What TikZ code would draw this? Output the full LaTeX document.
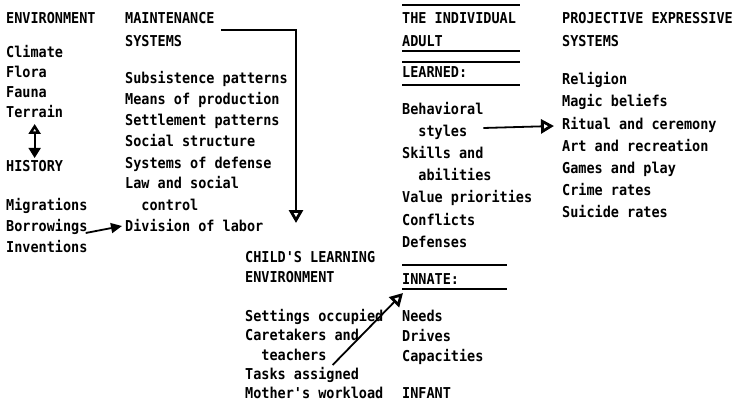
\documentclass[tikz,border=0pt]{standalone}
\usepackage{fontspec}
\usetikzlibrary{arrows.meta,calc}
\newfontfamily\dm[FakeStretch=0.9]{DejaVu Sans Mono}
\begin{document}
\begin{tikzpicture}[x=1pt,y=-1pt,
  font=\dm\bfseries\fontsize{15}{18}\selectfont,
  txt/.style={inner sep=0pt,anchor=base west},
  rulel/.style={line width=1.5pt},
  conn/.style={line width=1.8pt},
  openhead/.style={-{Triangle[open,length=13pt,width=14pt,line width=2.8pt]}},
  fillhead/.style={-{Triangle[length=11pt,width=10pt]}}]
\path[use as bounding box] (0,0) rectangle (741,414);
% column 1
\node[txt] (env) at (6,24) {ENVIRONMENT};
\node[txt] (climate) at (6,58) {Climate};
\node[txt] (flora) at (6,78) {Flora};
\node[txt] (fauna) at (6,98) {Fauna};
\node[txt] (terrain) at (6,118) {Terrain};
\node[txt] (history) at (6,172) {HISTORY};
\node[txt] (migr) at (6,210) {Migrations};
\node[txt] (borrow) at (6,231) {Borrowings};
\node[txt] (invent) at (6,252) {Inventions};
% column 2
\node[txt] (maint) at (125,24) {MAINTENANCE};
\node[txt] (msys) at (125,47) {SYSTEMS};
\node[txt] (subs) at (125,84) {Subsistence patterns};
\node[txt] (means) at (125,105) {Means of production};
\node[txt] (settle) at (125,126) {Settlement patterns};
\node[txt] (social) at (125,147) {Social structure};
\node[txt] (defense) at (125,168) {Systems of defense};
\node[txt] (law) at (125,189) {Law and social};
\node[txt] (control) at (141.2,210) {control};
\node[txt] (division) at (125,231) {Division of labor};
% column 3
\node[txt] (child1) at (245,262) {CHILD'S LEARNING};
\node[txt] (child2) at (245,282) {ENVIRONMENT};
\node[txt] (settings) at (245,321) {Settings occupied};
\node[txt] (care) at (245,340.5) {Caretakers and};
\node[txt] (teachers) at (261.2,360) {teachers};
\node[txt] (tasks) at (245,379) {Tasks assigned};
\node[txt] (mother) at (245,398) {Mother's workload};
% column 4
\node[txt] (indiv) at (402,24) {THE INDIVIDUAL};
\node[txt] (adult) at (402,47) {ADULT};
\node[txt] (learned) at (402,78) {LEARNED:};
\node[txt] (behav) at (402,115) {Behavioral};
\node[txt] (styles) at (418.2,137) {styles};
\node[txt] (skills) at (402,159) {Skills and};
\node[txt] (abil) at (418.2,181) {abilities};
\node[txt] (value) at (402,203) {Value priorities};
\node[txt] (confl) at (402,225) {Conflicts};
\node[txt] (defs) at (402,247) {Defenses};
\node[txt] (innate) at (402,284) {INNATE:};
\node[txt] (needs) at (402,321) {Needs};
\node[txt] (drives) at (402,341) {Drives};
\node[txt] (capac) at (402,361) {Capacities};
\node[txt] (infant) at (402,398) {INFANT};
% column 5
\node[txt] (proj) at (562,24) {PROJECTIVE EXPRESSIVE};
\node[txt] (psys) at (562,47) {SYSTEMS};
\node[txt] (relig) at (562,85) {Religion};
\node[txt] (magic) at (562,107) {Magic beliefs};
\node[txt] (ritual) at (562,130) {Ritual and ceremony};
\node[txt] (art) at (562,152) {Art and recreation};
\node[txt] (games) at (562,174) {Games and play};
\node[txt] (crime) at (562,196) {Crime rates};
\node[txt] (suicide) at (562,218) {Suicide rates};
% rules of column 4
\draw[rulel] (402,5) -- (520,5);
\draw[rulel] (402,51) -- (520,51);
\draw[rulel] (402,62) -- (520,62);
\draw[rulel] (402,85) -- (520,85);
\draw[rulel] (402,265) -- (507,265);
\draw[rulel] (402,289) -- (507,289);
% connectors
\draw[conn,{Triangle[open,length=10pt,width=12pt,line width=2.6pt]}-{Triangle[length=10pt,width=12pt]}]
  ($(terrain.base)+(0,6)$) -- ($(history.base)+(0,-14)$);
\draw[conn,fillhead] ($(borrow.base east)+(-2,2)$) -- ($(division.base west)+(-3,-5)$);
\draw[conn,openhead] ($(maint.base east)+(6,6)$) -| ($(child1.base west)+(51,-39)$);
\draw[conn,openhead] ($(teachers.base east)+(6,5)$) -- ($(innate.base west)+(1,9)$);
\draw[conn,openhead] ($(styles.base east)+(16,-9)$) -- ($(ritual.base west)+(-8,-4)$);
\end{tikzpicture}
\end{document}
